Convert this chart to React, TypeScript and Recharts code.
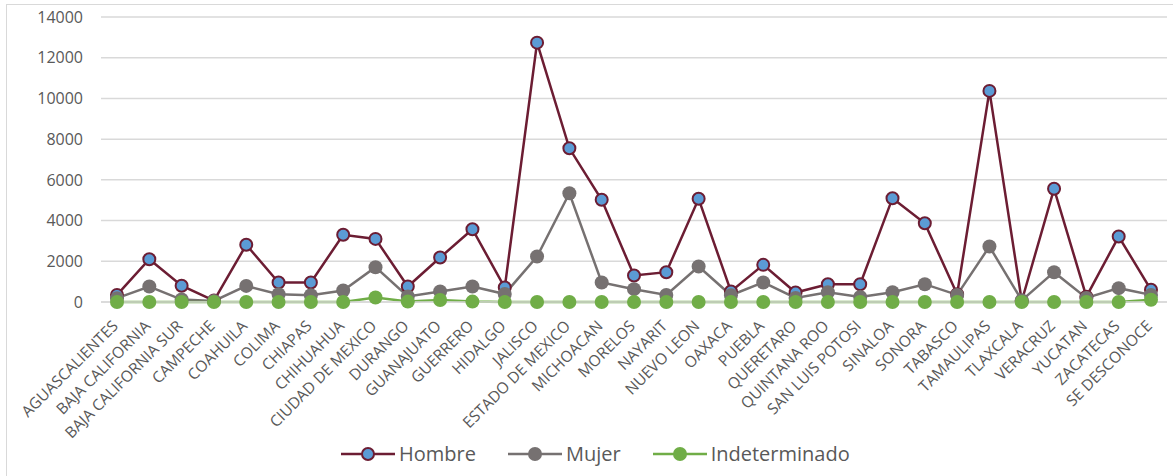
import React from "react";
import {
  CartesianGrid,
  Legend,
  Line,
  LineChart,
  XAxis,
  YAxis,
} from "recharts";

const categories = [
  "AGUASCALIENTES", "BAJA CALIFORNIA", "BAJA CALIFORNIA SUR", "CAMPECHE", "COAHUILA",
  "COLIMA", "CHIAPAS", "CHIHUAHUA", "CIUDAD DE MEXICO", "DURANGO", "GUANAJUATO",
  "GUERRERO", "HIDALGO", "JALISCO", "ESTADO DE MEXICO", "MICHOACAN", "MORELOS",
  "NAYARIT", "NUEVO LEON", "OAXACA", "PUEBLA", "QUERETARO", "QUINTANA ROO",
  "SAN LUIS POTOSI", "SINALOA", "SONORA", "TABASCO", "TAMAULIPAS", "TLAXCALA",
  "VERACRUZ", "YUCATAN", "ZACATECAS", "SE DESCONOCE",
];

const hombre = [
  350, 2100, 800, 70, 2810, 960, 960, 3300, 3100, 760, 2185, 3575, 710, 12740, 7550,
  5020, 1300, 1465, 5070, 515, 1825, 465, 875, 875, 5100, 3870, 380, 10370, 50, 5560,
  260, 3215, 600,
];

const mujer = [
  190, 760, 120, 50, 790, 380, 330, 565, 1710, 270, 515, 760, 390, 2235, 5340, 960,
  630, 350, 1745, 330, 960, 200, 480, 250, 480, 875, 350, 2725, 80, 1465, 200, 680, 350,
];

const indeterminado = [
  0, 0, 0, 0, 0, 0, 0, 0, 220, 20, 100, 20, 0, 0, 0, 0, 0, 0, 0, 0, 0, 0, 0, 0, 0, 0,
  0, 0, 0, 0, 0, 0, 110,
];

const yTicks = [0, 2000, 4000, 6000, 8000, 10000, 12000, 14000];

const data = categories.map((name, i) => ({
  name,
  Hombre: hombre[i],
  Mujer: mujer[i],
  Indeterminado: indeterminado[i],
}));

const FONT = "'Open Sans', sans-serif";
const TEXT = "#595959";
const MAROON = "#6C1D33";
const BLUE = "#5B9BD5";
const GRAY = "#767171";
const GREEN = "#70AD47";

// rotated state names, anchored at their end just under the point
const CategoryTick = (props: any) => {
  const { x, y, payload } = props;
  const tx = x + 2;
  const ty = y + 17;
  return (
    <text
      x={tx}
      y={ty}
      transform={`rotate(-45, ${tx}, ${ty})`}
      textAnchor="end"
      fontSize={15.5}
      fontFamily={FONT}
      fill={TEXT}
    >
      {payload.value}
    </text>
  );
};

const legendItems = [
  { label: "Hombre", stroke: MAROON, fill: BLUE, ring: true },
  { label: "Mujer", stroke: GRAY, fill: GRAY, ring: false },
  { label: "Indeterminado", stroke: GREEN, fill: GREEN, ring: false },
];

const LegendContent = () => (
  <div style={{ display: "flex", alignItems: "center", fontFamily: FONT }}>
    {legendItems.map((item) => (
      <div
        key={item.label}
        style={{ display: "flex", alignItems: "center", marginRight: 32 }}
      >
        <svg width={54} height={16}>
          <line x1={0} y1={8} x2={54} y2={8} stroke={item.stroke} strokeWidth={2.5} />
          <circle
            cx={27}
            cy={8}
            r={item.ring ? 6 : 7}
            fill={item.fill}
            stroke={item.ring ? item.stroke : "none"}
            strokeWidth={2}
          />
        </svg>
        <span style={{ marginLeft: 4, fontSize: 20, color: TEXT }}>{item.label}</span>
      </div>
    ))}
  </div>
);

export default function App() {
  return (
    <div
      style={{
        position: "absolute",
        left: 6,
        top: 4,
        width: 1190,
        height: 490,
        border: "1px solid #d9d9d9",
        boxSizing: "border-box",
        background: "#fff",
      }}
    >
      <LineChart
        width={1170}
        height={475}
        data={data}
        margin={{ top: 12, right: 10, bottom: 16, left: 0 }}
      >
        <CartesianGrid vertical={false} stroke="#d9d9d9" strokeWidth={1.5} />
        <XAxis
          dataKey="name"
          interval={0}
          padding={{ left: 16, right: 16 }}
          axisLine={{ stroke: "#d9d9d9", strokeWidth: 1.5 }}
          tickLine={false}
          height={138}
          tick={<CategoryTick />}
        />
        <YAxis
          domain={[0, 14000]}
          ticks={yTicks}
          width={94}
          axisLine={false}
          tickLine={false}
          tickMargin={12}
          tick={{ fontSize: 16, fontFamily: FONT, fill: TEXT }}
        />
        <Legend
          verticalAlign="bottom"
          content={<LegendContent />}
          wrapperStyle={{ left: 334, width: 640, height: 24 }}
        />
        <Line
          type="linear"
          dataKey="Hombre"
          stroke={MAROON}
          strokeWidth={2.5}
          dot={{ r: 6, fill: BLUE, stroke: MAROON, strokeWidth: 2 }}
          activeDot={false}
          isAnimationActive={false}
        />
        <Line
          type="linear"
          dataKey="Mujer"
          stroke={GRAY}
          strokeWidth={2.5}
          dot={{ r: 7, fill: GRAY, stroke: GRAY, strokeWidth: 0 }}
          activeDot={false}
          isAnimationActive={false}
        />
        <Line
          type="linear"
          dataKey="Indeterminado"
          stroke={GREEN}
          strokeWidth={2.5}
          dot={{ r: 7, fill: GREEN, stroke: GREEN, strokeWidth: 0 }}
          activeDot={false}
          isAnimationActive={false}
        />
      </LineChart>
    </div>
  );
}
